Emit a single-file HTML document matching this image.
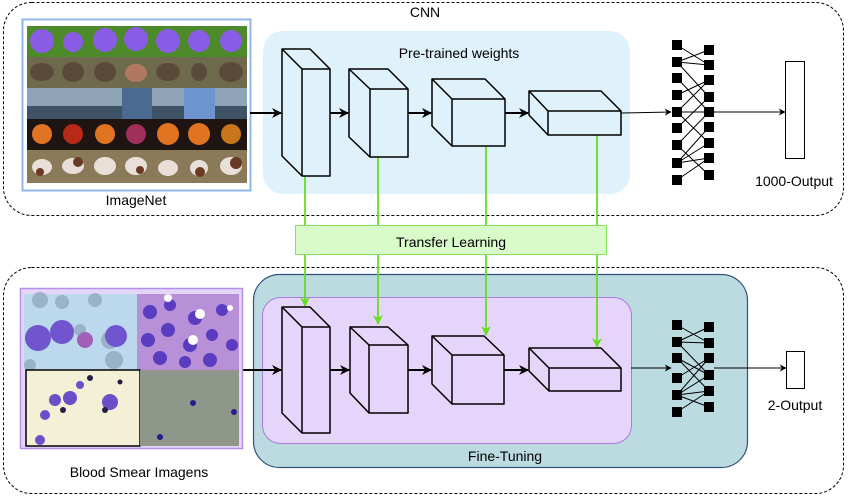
<!DOCTYPE html>
<html><head><meta charset="utf-8"><style>
html,body{margin:0;padding:0;background:#fff;}
svg{display:block;font-family:"Liberation Sans",sans-serif;}
</style></head><body>
<svg width="850" height="497" viewBox="0 0 850 497" xmlns="http://www.w3.org/2000/svg">
<defs>
<marker id="ab" viewBox="0 0 10 10" refX="9" refY="5" markerWidth="10" markerHeight="10" orient="auto" markerUnits="userSpaceOnUse"><path d="M0,0 L10,5 L0,10 L3,5 z" fill="#000"/></marker>
<marker id="as" viewBox="0 0 10 10" refX="9" refY="5" markerWidth="7" markerHeight="7" orient="auto" markerUnits="userSpaceOnUse"><path d="M0,0 L10,5 L0,10 L3,5 z" fill="#000"/></marker>
<marker id="ag" viewBox="0 0 10 10" refX="9" refY="5" markerWidth="10" markerHeight="10" orient="auto" markerUnits="userSpaceOnUse"><path d="M0,0 L10,5 L0,10 L3,5 z" fill="#66dd22"/></marker>
</defs>

<rect x="3.5" y="2.5" width="840" height="213" rx="28" fill="none" stroke="#000" stroke-dasharray="3,2" stroke-width="1"/>
<rect x="3.5" y="267.5" width="840" height="226" rx="28" fill="none" stroke="#000" stroke-dasharray="3,2" stroke-width="1"/>
<text x="425" y="17" font-size="14" text-anchor="middle">CNN</text>

<rect x="22.5" y="19.5" width="228" height="171" fill="#fff" stroke="#8fb7ec" stroke-width="2"/>
<g>
<rect x="27" y="26" width="220" height="31" fill="#4c8a2a"/>
<g fill="#8a5ce6"><circle cx="42" cy="41" r="12"/><circle cx="73" cy="42" r="10"/><circle cx="105" cy="40" r="12"/><circle cx="136" cy="39" r="12"/><circle cx="168" cy="41" r="12"/><circle cx="199" cy="41" r="11"/><circle cx="231" cy="41" r="11"/></g>
<rect x="27" y="57" width="220" height="31" fill="#6e6a4e"/>
<g fill="#5a4a3a"><ellipse cx="42" cy="72" rx="12" ry="9"/><ellipse cx="73" cy="72" rx="11" ry="10"/><ellipse cx="105" cy="72" rx="11" ry="10"/><ellipse cx="136" cy="73" rx="11" ry="9" fill="#b07860"/><ellipse cx="168" cy="72" rx="12" ry="9"/><ellipse cx="199" cy="72" rx="8" ry="9"/><ellipse cx="231" cy="72" rx="12" ry="10"/></g>
<rect x="27" y="88" width="220" height="31" fill="#8fa3b6"/>
<g fill="#3f5366"><rect x="27" y="106" width="220" height="13"/></g>
<rect x="122" y="88" width="30" height="31" fill="#4a6a92"/>
<rect x="184" y="88" width="31" height="31" fill="#6e94cf"/>
<rect x="27" y="119" width="220" height="31" fill="#1e1512"/>
<g fill="#e07420"><circle cx="42" cy="134" r="10"/><circle cx="73" cy="134" r="10" fill="#b82a18"/><circle cx="105" cy="134" r="10"/><circle cx="136" cy="134" r="10" fill="#a0305a"/><circle cx="168" cy="134" r="11"/><circle cx="199" cy="134" r="11"/><circle cx="231" cy="134" r="10" fill="#c8761c"/></g>
<rect x="27" y="150" width="220" height="33" fill="#8a7a5a"/>
<g fill="#e8e0d8"><ellipse cx="42" cy="167" rx="10" ry="8"/><ellipse cx="73" cy="166" rx="11" ry="8"/><ellipse cx="105" cy="166" rx="11" ry="9"/><ellipse cx="136" cy="166" rx="11" ry="9"/><ellipse cx="168" cy="168" rx="10" ry="8"/><ellipse cx="199" cy="168" rx="9" ry="8"/><ellipse cx="231" cy="166" rx="11" ry="9"/></g>
<g fill="#6a3a22"><circle cx="40" cy="172" r="4"/><circle cx="78" cy="162" r="5"/><circle cx="140" cy="170" r="4"/><circle cx="200" cy="172" r="5"/><circle cx="236" cy="163" r="6"/></g>
</g>
<text x="136" y="205" font-size="14" text-anchor="middle">ImageNet</text>

<rect x="263" y="31" width="367" height="163" rx="20" fill="#dff1fb"/>
<text x="459" y="58" font-size="14" text-anchor="middle">Pre-trained weights</text>

<rect x="253.5" y="274.5" width="494" height="193" rx="26" fill="#bcdbe0" stroke="#33527a" stroke-width="1.2"/>
<rect x="262.5" y="297.5" width="369" height="146" rx="18" fill="#e6d5fa" stroke="#a97ae0" stroke-width="1"/>
<text x="505" y="461" font-size="14" text-anchor="middle">Fine-Tuning</text>

<g stroke="#66dd22" stroke-width="1.8" fill="none">
<line x1="305" y1="176" x2="305" y2="306" marker-end="url(#ag)"/>
<line x1="378" y1="157" x2="378" y2="324" marker-end="url(#ag)"/>
<line x1="486" y1="146" x2="486" y2="335" marker-end="url(#ag)"/>
<line x1="597" y1="135" x2="597" y2="347" marker-end="url(#ag)"/>
</g>
<rect x="295.5" y="225.5" width="311" height="29" fill="#d9fbc9" stroke="#88e060"/>
<text x="451" y="247" font-size="14" text-anchor="middle">Transfer Learning</text>

<g stroke="#000" stroke-width="1.5" fill="#dff1fb" stroke-linejoin="round">
<path d="M282,49 L310,49 L330,69 L330,176 L302,176 L282,156 Z"/><path d="M282,49 L302,69 L330,69 M302,69 L302,176" fill="none"/>
<path d="M349,69 L388,69 L408,89 L408,157 L370,157 L349,137 Z"/><path d="M349,69 L370,89 L408,89 M370,89 L370,157" fill="none"/>
<path d="M432,79 L485,79 L505,99 L505,146 L452,146 L432,126 Z"/><path d="M432,79 L452,99 L505,99 M452,99 L452,146" fill="none"/>
<path d="M529,91 L601,91 L621,111 L621,135 L548,135 L529,115 Z"/><path d="M529,91 L548,111 L621,111 M548,111 L548,135" fill="none"/>
</g>
<g stroke="#000" stroke-width="2" fill="none">
<line x1="250" y1="113" x2="281" y2="113" marker-end="url(#ab)"/>
<line x1="330" y1="113" x2="348" y2="113" marker-end="url(#ab)"/>
<line x1="408" y1="113" x2="431" y2="113" marker-end="url(#ab)"/>
<line x1="505" y1="113" x2="528" y2="113" marker-end="url(#ab)"/>
</g>
<g stroke="#000" stroke-width="1" fill="none">
<line x1="621" y1="113" x2="671" y2="112" marker-end="url(#as)"/>
<line x1="714" y1="112" x2="785" y2="112" marker-end="url(#as)"/>
</g>

<g stroke="#000" stroke-width="1.5" fill="#e6d5fa" stroke-linejoin="round">
<path d="M282,307 L310,307 L330,327 L330,433 L302,433 L282,413 Z"/><path d="M282,307 L302,327 L330,327 M302,327 L302,433" fill="none"/>
<path d="M350,327 L388,327 L408,345 L408,413 L369,413 L350,393 Z"/><path d="M350,327 L369,345 L408,345 M369,345 L369,413" fill="none"/>
<path d="M432,336 L484,336 L504,355 L504,404 L452,404 L432,384 Z"/><path d="M432,336 L452,355 L504,355 M452,355 L452,404" fill="none"/>
<path d="M529,348 L601,348 L621,368 L621,391 L549,391 L529,371 Z"/><path d="M529,348 L549,368 L621,368 M549,368 L549,391" fill="none"/>
</g>
<g stroke="#000" stroke-width="2" fill="none">
<line x1="243" y1="370" x2="281" y2="370" marker-end="url(#ab)"/>
<line x1="330" y1="370" x2="349" y2="370" marker-end="url(#ab)"/>
<line x1="408" y1="370" x2="431" y2="370" marker-end="url(#ab)"/>
<line x1="504" y1="370" x2="528" y2="370" marker-end="url(#ab)"/>
</g>
<g stroke="#000" stroke-width="1" fill="none">
<line x1="631" y1="368" x2="671" y2="368" marker-end="url(#as)"/>
<line x1="714" y1="368" x2="786" y2="368" marker-end="url(#as)"/>
</g>

<g stroke="#000" stroke-width="1">
<line x1="677" y1="45" x2="709" y2="65"/><line x1="677" y1="62" x2="709" y2="50"/><line x1="677" y1="62" x2="709" y2="65"/><line x1="677" y1="62" x2="709" y2="97"/><line x1="677" y1="78" x2="709" y2="112"/><line x1="677" y1="95" x2="709" y2="80"/><line x1="677" y1="112" x2="709" y2="80"/><line x1="677" y1="112" x2="709" y2="143"/><line x1="677" y1="128" x2="709" y2="97"/><line x1="677" y1="145" x2="709" y2="112"/><line x1="677" y1="163" x2="709" y2="127"/><line x1="677" y1="163" x2="709" y2="158"/><line x1="677" y1="163" x2="709" y2="143"/><line x1="677" y1="180" x2="709" y2="158"/><line x1="677" y1="145" x2="709" y2="175"/><line x1="677" y1="112" x2="709" y2="112"/>
</g>
<g fill="#000">
<rect x="672" y="40" width="10" height="10"/><rect x="672" y="57" width="10" height="10"/><rect x="672" y="73" width="10" height="10"/><rect x="672" y="90" width="10" height="10"/><rect x="672" y="107" width="10" height="10"/><rect x="672" y="123" width="10" height="10"/><rect x="672" y="140" width="10" height="10"/><rect x="672" y="158" width="10" height="10"/><rect x="672" y="175" width="10" height="10"/>
<rect x="704" y="45" width="10" height="10"/><rect x="704" y="60" width="10" height="10"/><rect x="704" y="75" width="10" height="10"/><rect x="704" y="92" width="10" height="10"/><rect x="704" y="107" width="10" height="10"/><rect x="704" y="122" width="10" height="10"/><rect x="704" y="138" width="10" height="10"/><rect x="704" y="153" width="10" height="10"/><rect x="704" y="170" width="10" height="10"/>
</g>
<rect x="785.5" y="61.5" width="19" height="97" fill="#fff" stroke="#000"/>
<text x="794" y="186" font-size="14" text-anchor="middle">1000-Output</text>

<g stroke="#000" stroke-width="1">
<line x1="677" y1="325" x2="709" y2="343"/><line x1="677" y1="342" x2="709" y2="327"/><line x1="677" y1="342" x2="709" y2="343"/><line x1="677" y1="342" x2="709" y2="375"/><line x1="677" y1="358" x2="709" y2="391"/><line x1="677" y1="358" x2="709" y2="375"/><line x1="677" y1="378" x2="709" y2="358"/><line x1="677" y1="395" x2="709" y2="358"/><line x1="677" y1="395" x2="709" y2="391"/><line x1="677" y1="395" x2="709" y2="407"/><line x1="677" y1="412" x2="709" y2="391"/><line x1="677" y1="395" x2="709" y2="375"/>
</g>
<g fill="#000">
<rect x="672" y="320" width="10" height="10"/><rect x="672" y="337" width="10" height="10"/><rect x="672" y="353" width="10" height="10"/><rect x="672" y="373" width="10" height="10"/><rect x="672" y="390" width="10" height="10"/><rect x="672" y="407" width="10" height="10"/>
<rect x="704" y="322" width="10" height="10"/><rect x="704" y="338" width="10" height="10"/><rect x="704" y="353" width="10" height="10"/><rect x="704" y="370" width="10" height="10"/><rect x="704" y="386" width="10" height="10"/><rect x="704" y="402" width="10" height="10"/>
</g>
<rect x="786.5" y="351.5" width="18" height="37" fill="#fff" stroke="#000"/>
<text x="795" y="410" font-size="14" text-anchor="middle">2-Output</text>

<rect x="20.5" y="288.5" width="222" height="160" fill="#e6d5fa" stroke="#b58fe8" stroke-width="1.5"/>
<rect x="24" y="294" width="113" height="76" fill="#bcd8ec"/>
<g fill="#9ab2c8"><circle cx="40" cy="300" r="8"/><circle cx="62" cy="302" r="7"/><circle cx="95" cy="300" r="7"/><circle cx="110" cy="340" r="9"/><circle cx="114" cy="360" r="9"/><circle cx="80" cy="330" r="6"/><circle cx="30" cy="365" r="6"/></g>
<g fill="#7055cf"><circle cx="38" cy="338" r="13"/><circle cx="62" cy="332" r="12"/><circle cx="85" cy="340" r="8" fill="#a060b8"/><circle cx="116" cy="336" r="11"/></g>
<rect x="137" y="294" width="102" height="76" fill="#b890d8"/>
<g fill="#5a3cc0"><circle cx="150" cy="312" r="7"/><circle cx="170" cy="305" r="6"/><circle cx="195" cy="318" r="7"/><circle cx="222" cy="310" r="6"/><circle cx="148" cy="340" r="7"/><circle cx="168" cy="330" r="7"/><circle cx="190" cy="345" r="7"/><circle cx="212" cy="335" r="6"/><circle cx="232" cy="345" r="6"/><circle cx="160" cy="358" r="7"/><circle cx="185" cy="362" r="6"/><circle cx="210" cy="360" r="7"/></g>
<g fill="#fff"><circle cx="168" cy="298" r="4"/><circle cx="200" cy="314" r="5"/><circle cx="193" cy="340" r="5"/><circle cx="230" cy="308" r="3"/></g>
<rect x="26" y="370" width="114" height="76" fill="#f4f0d6" stroke="#000" stroke-width="1.5"/>
<g fill="#6a50c8"><circle cx="55" cy="400" r="6"/><circle cx="70" cy="398" r="7"/><circle cx="110" cy="402" r="8"/><circle cx="45" cy="415" r="5"/><circle cx="80" cy="385" r="4"/><circle cx="40" cy="440" r="5"/></g>
<g fill="#222048"><circle cx="63" cy="410" r="3"/><circle cx="90" cy="378" r="3"/><circle cx="105" cy="410" r="3"/><circle cx="120" cy="382" r="2.5"/></g>
<rect x="140" y="370" width="99" height="76" fill="#8e978a"/>
<g fill="#2a1c8a"><circle cx="193" cy="403" r="3"/><circle cx="234" cy="412" r="3"/><circle cx="160" cy="437" r="3"/></g>
<text x="139" y="477" font-size="14" text-anchor="middle">Blood Smear Imagens</text>
</svg>
</body></html>
